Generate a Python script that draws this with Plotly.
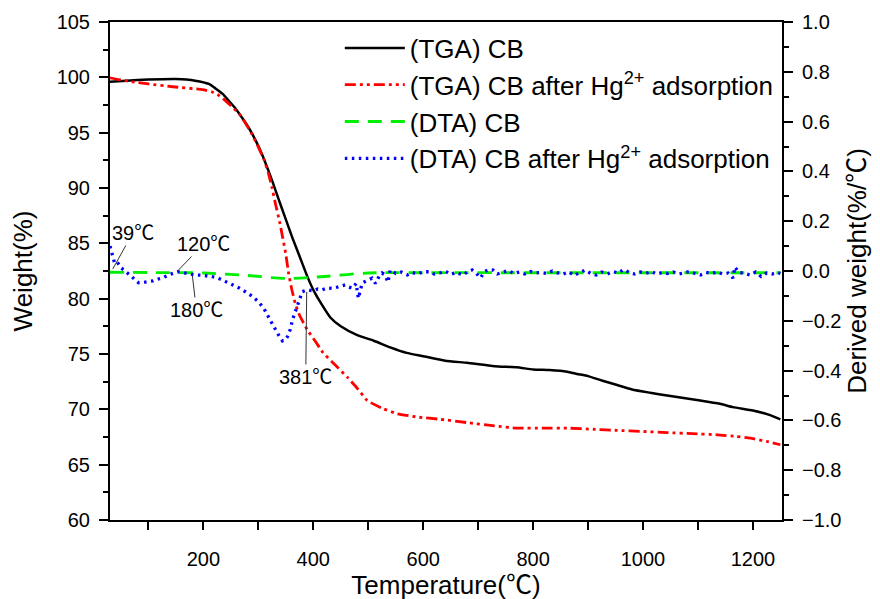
import plotly.graph_objects as go

# ---------------- data ----------------
tga_T = [30, 60, 100, 150, 185, 210, 222, 235, 245, 258, 271, 283, 295, 307, 318, 327, 336, 349,
         362, 376, 390, 400, 415, 431, 450, 480, 510, 540, 570, 600, 640, 680, 730, 770, 800, 830,
         862, 880, 900, 925, 953, 980, 1013, 1050, 1104, 1140, 1164, 1200, 1230, 1250]
tga_cb = [99.6, 99.7, 99.8, 99.85, 99.7, 99.4, 99.0, 98.5, 97.95, 97.2, 96.3, 95.4, 94.3, 93.0, 91.6,
          90.4, 89.1, 87.3, 85.5, 83.7, 81.9, 80.8, 79.5, 78.3, 77.5, 76.7, 76.2, 75.6, 75.1, 74.8,
          74.4, 74.2, 73.9, 73.8, 73.6, 73.55, 73.4, 73.2, 73.0, 72.6, 72.2, 71.8, 71.5, 71.2, 70.8,
          70.5, 70.2, 69.9, 69.5, 69.1]

tga_hg_T = [30, 45, 70, 100, 144, 198, 215, 227, 240, 253, 265, 276, 288, 300, 310, 318, 325, 331,
            338, 344, 350, 355, 361, 367, 375, 389, 403, 418, 440, 462, 480, 498, 525, 553, 590, 631,
            680, 730, 771, 820, 862, 910, 953, 1000, 1044, 1090, 1135, 1170, 1195, 1225, 1250]
tga_hg = [99.95, 99.8, 99.6, 99.4, 99.15, 98.9, 98.7, 98.4, 97.9, 97.3, 96.7, 95.9, 94.9, 93.7, 92.6,
          91.4, 90.0, 88.6, 87.1, 85.6, 84.0, 82.3, 80.8, 79.6, 78.5, 77.2, 76.2, 75.1, 74.0, 72.9,
          71.9, 70.8, 70.1, 69.6, 69.3, 69.1, 68.8, 68.5, 68.3, 68.3, 68.3, 68.2, 68.1, 68.0, 67.9,
          67.8, 67.7, 67.55, 67.4, 67.1, 66.8]

dta_T = [30, 100, 200, 280, 350, 420, 500, 600, 800, 1000, 1250]
dta_cb = [-0.005, -0.006, -0.008, -0.018, -0.03, -0.022, -0.008, -0.007, -0.007, -0.007, -0.007]

dta_hg_T = [30, 34, 38, 42, 46, 50, 55, 60, 66, 71, 77, 82, 90, 100, 108, 118, 126, 136, 145, 153,
            160, 167, 176, 185, 195, 204, 215, 227, 240, 253, 265, 276, 288, 300, 310, 318, 325, 331,
            338, 344, 349, 353, 358, 362, 367, 371, 376, 380, 386, 391, 400, 408, 416, 425, 435, 445,
            452, 458, 465, 471, 478, 482, 489, 500, 507, 513, 520, 525, 530, 536, 540, 550, 560, 571,
            580, 590, 600, 613, 620, 630, 640, 650, 660, 673, 680, 689, 697, 704, 712, 720, 727, 735,
            745, 755, 765, 775, 785, 795, 805, 815, 825, 835, 845, 855, 865, 875, 885, 895, 905, 915,
            925, 935, 945, 955, 965, 975, 985, 995, 1005, 1015, 1025, 1035, 1045, 1055, 1065, 1075,
            1085, 1095, 1105, 1115, 1125, 1135, 1145, 1155, 1164, 1167, 1175, 1185, 1195, 1205, 1215,
            1225, 1235, 1245, 1250]
dta_hg = [0.100, 0.060, 0.035, 0.040, 0.025, 0.012, 0.005, -0.005, -0.015, -0.028, -0.040, -0.047,
          -0.046, -0.043, -0.040, -0.032, -0.028, -0.016, -0.010, -0.003, -0.006, -0.009, -0.012,
          -0.016, -0.017, -0.019, -0.022, -0.029, -0.042, -0.056, -0.068, -0.083, -0.100, -0.123,
          -0.150, -0.183, -0.212, -0.237, -0.262, -0.281, -0.276, -0.264, -0.235, -0.197, -0.165,
          -0.137, -0.105, -0.083, -0.078, -0.076, -0.080, -0.072, -0.076, -0.068, -0.070, -0.063,
          -0.060, -0.056, -0.065, -0.069, -0.050, -0.110, -0.048, -0.035, -0.029, -0.050, -0.020,
          -0.008, -0.015, -0.045, 0.004, -0.010, -0.004, -0.016, -0.006, -0.012, -0.003, -0.003,
          -0.012, -0.008, 0.000, -0.014, -0.006, -0.016, -0.004, 0.004, -0.010, -0.028, -0.002,
          0.006, 0.004, -0.012, -0.006, 0.002, -0.010, -0.004, -0.012, -0.002, -0.008, -0.006,
          -0.010, 0.000, -0.008, -0.012, -0.004, -0.018, -0.006, 0.004, -0.010, -0.016, -0.004,
          -0.012, -0.002, -0.008, 0.006, -0.006, -0.012, -0.004, -0.010, -0.002, -0.012, -0.006,
          -0.010, -0.004, -0.012, -0.006, -0.002, -0.010, -0.016, -0.006, -0.010, -0.004, -0.012,
          -0.008, -0.028, 0.016, -0.006, -0.010, -0.016, -0.004, -0.022, -0.008, -0.012, -0.006,
          -0.010]

# annotation labels: (text, temperature, y2 value, text offset x, text offset y)
peak_labels = ["39℃", "120℃", "180℃", "381℃"]
peak_T = [35, 153, 180, 388]
peak_y = [0.008, 0.0, -0.02, -0.084]
label_dx = [20, 26, 4, -1]
label_dy = [-36, -27, 34, 85]

x_ticks = [200, 400, 600, 800, 1000, 1200]

FONT = "Arial, Liberation Sans, Noto Sans CJK SC, sans-serif"

fig = go.Figure()
fig.add_trace(go.Scatter(x=tga_T, y=tga_cb, mode="lines", name="(TGA) CB",
                         line=dict(color="black", width=2.5, shape="spline", smoothing=0.5)))
fig.add_trace(go.Scatter(x=tga_hg_T, y=tga_hg, mode="lines",
                         name="(TGA) CB after Hg<sup>2+</sup> adsorption",
                         line=dict(color="red", width=2.8, dash="11px,4px,3px,4px,3px,4px",
                                   shape="spline", smoothing=0.4)))
fig.add_trace(go.Scatter(x=dta_T, y=dta_cb, mode="lines", name="(DTA) CB", yaxis="y2",
                         line=dict(color="#00ee00", width=2.8, dash="14px,9px",
                                   shape="spline", smoothing=0.8)))
fig.add_trace(go.Scatter(x=dta_hg_T, y=dta_hg, mode="lines",
                         name="(DTA) CB after Hg<sup>2+</sup> adsorption", yaxis="y2",
                         line=dict(color="blue", width=3.3, dash="2.5px,4.5px")))

for t, xv, yv, dx, dy in zip(peak_labels, peak_T, peak_y, label_dx, label_dy):
    fig.add_annotation(x=xv, y=yv, xref="x", yref="y2", text=t, showarrow=True,
                       arrowhead=0, arrowwidth=1, arrowcolor="#333333", ax=dx, ay=dy,
                       font=dict(family=FONT, size=20, color="black"))

fig.update_layout(
    width=880, height=599,
    margin=dict(l=102, r=106, t=14, b=87),
    plot_bgcolor="white", paper_bgcolor="white",
    font=dict(family=FONT, size=20, color="black"),
    showlegend=True,
    legend=dict(x=0.342, y=0.995, xanchor="left", yanchor="top", bgcolor="rgba(0,0,0,0)",
                font=dict(family=FONT, size=26), itemwidth=60, tracegroupgap=0),
    xaxis=dict(range=[30, 1253], tickvals=x_ticks, showline=True, linecolor="black", linewidth=2,
               ticks="outside", ticklen=8, tickwidth=1.5, tickcolor="black", mirror=True,
               showgrid=False, zeroline=False, ticklabelstandoff=12, automargin=True,
               minor=dict(dtick=100, tick0=0, ticks="outside", ticklen=8, tickwidth=1.5,
                          tickcolor="black", showgrid=False),
               tickfont=dict(size=20),
               title=dict(text="Temperature(℃)", font=dict(size=26), standoff=6)),
    yaxis=dict(range=[60, 105], dtick=5, showline=True, linecolor="black", linewidth=2,
               ticks="outside", ticklen=9, tickwidth=1.5, tickcolor="black", automargin=False,
               showgrid=False, zeroline=False, ticklabelstandoff=5,
               minor=dict(dtick=2.5, ticks="outside", ticklen=5, tickwidth=1.5,
                          tickcolor="black", showgrid=False),
               tickfont=dict(size=20),
               title=dict(text="Weight(%)", font=dict(size=26), standoff=20)),
    yaxis2=dict(range=[-1, 1], dtick=0.2, tickformat=".1f", overlaying="y", side="right",
                showline=True, linecolor="black", linewidth=2, automargin=False,
                ticks="outside", ticklen=9, tickwidth=1.5, tickcolor="black",
                showgrid=False, zeroline=False, ticklabelstandoff=5,
                minor=dict(dtick=0.1, ticks="outside", ticklen=5, tickwidth=1.5,
                           tickcolor="black", showgrid=False),
                tickfont=dict(size=20),
                title=dict(text="Derived weight(%/℃)", font=dict(size=26), standoff=7)),
)

fig.write_html("out.html")
